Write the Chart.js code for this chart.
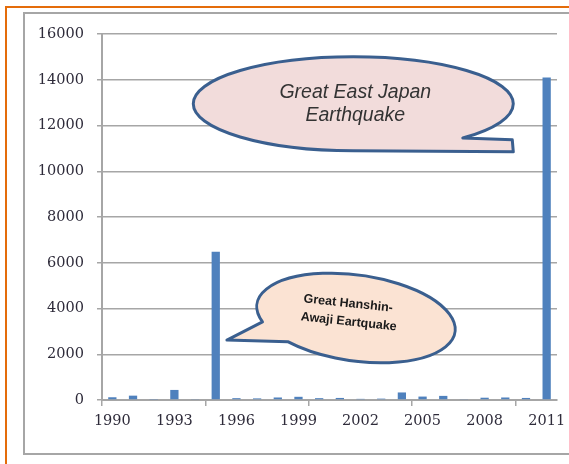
<!DOCTYPE html>
<html>
<head>
<meta charset="utf-8">
<script src="https://cdn.jsdelivr.net/npm/chart.js@4"></script>
<style>
    html, body { margin: 0; padding: 0; background: #fff; }
    #wrap { position: relative; width: 569px; height: 464px; overflow: hidden; }
    /* orange page frame and grey chart frame */
    #orangeFrame {
        position: absolute; left: 5px; top: 6px; width: 700px; height: 600px;
        border-top: 2px solid #e46c0a; border-left: 2px solid #e46c0a;
    }
    #greyFrame {
        position: absolute; left: 23px; top: 12px; width: 700px; height: 439px;
        border: 2px solid #a6a6a6; border-right: none;
    }
    #chart { position: absolute; left: 0; top: 0; }
</style>
</head>
<body>
<div id="wrap">
    <div id="orangeFrame"></div>
    <div id="greyFrame"></div>
    <canvas id="chart" width="569" height="464"></canvas>
</div>
<script>
// Years (categories)
const years = ['1990', '1991', '1992', '1993', '1994', '1995', '1996', '1997', '1998', '1999', '2000',
    '2001', '2002', '2003', '2004', '2005', '2006', '2007', '2008', '2009', '2010', '2011'];

// Dead and missing from natural disasters
const casualties = [120, 190, 20, 440, 40, 6480, 80, 70, 110, 140, 80,
    90, 50, 60, 330, 150, 180, 40, 100, 110, 90, 14100];

// Tick labels shown on the axes
const shownYears = ['1990', '1993', '1996', '1999', '2002', '2005', '2008', '2011'];
const yTicks = [0, 2000, 4000, 6000, 8000, 10000, 12000, 14000, 16000];

const barColor = '#4f81bd';
const gridColor = '#a6a6a6';
const labelColor = '#2e2b3a';
const outlineColor = '#3a5f8f';

// Speech bubbles drawn on top of the bars
const calloutPlugin = {
    id: 'callouts',
    afterDatasetsDraw(chart) {
        const ctx = chart.ctx;
        const x = chart.scales.x;
        const y = chart.scales.y;
        const deg = Math.PI / 180;

        // Great East Japan Earthquake
        const cx = x.getPixelForValue(11.65);
        const cy = y.getPixelForValue(12950);
        ctx.save();
        ctx.beginPath();
        ctx.ellipse(cx, cy, 160, 47, 0, 90 * deg, 406.8 * deg);
        ctx.lineTo(cx + 159, cy + 36);
        ctx.lineTo(cx + 160, cy + 48);
        ctx.closePath();
        ctx.fillStyle = '#f2dcdb';
        ctx.fill();
        ctx.lineWidth = 3;
        ctx.lineJoin = 'round';
        ctx.strokeStyle = outlineColor;
        ctx.stroke();
        ctx.fillStyle = '#333';
        ctx.font = 'italic 19.5px "Liberation Sans", Arial, sans-serif';
        ctx.textAlign = 'center';
        ctx.textBaseline = 'middle';
        ctx.fillText('Great East Japan', cx + 2, cy - 11);
        ctx.fillText('Earthquake', cx + 2, cy + 12);
        ctx.restore();

        // Great Hanshin-Awaji Earthquake
        const sx = x.getPixelForValue(11.78);
        const sy = y.getPixelForValue(3585);
        const tipX = x.getPixelForValue(5.54);
        const tipY = y.getPixelForValue(2620);
        ctx.save();
        ctx.beginPath();
        ctx.ellipse(sx, sy, 100, 43, 8 * deg, 157 * deg, 490 * deg);
        ctx.lineTo(tipX, tipY);
        ctx.closePath();
        ctx.fillStyle = '#fbe3d3';
        ctx.fill();
        ctx.lineWidth = 3;
        ctx.lineJoin = 'round';
        ctx.strokeStyle = outlineColor;
        ctx.stroke();
        ctx.translate(sx, sy);
        ctx.rotate(6 * deg);
        ctx.fillStyle = '#1a1a1a';
        ctx.font = 'bold 12.5px "Liberation Sans", Arial, sans-serif';
        ctx.textAlign = 'left';
        ctx.textBaseline = 'middle';
        ctx.fillText('Great Hanshin-', -54, -13.5);
        ctx.fillText('Awaji Eartquake', -55, 4.7);
        ctx.restore();
    }
};

function initChart() {
    const ctx = document.getElementById('chart');

    new Chart(ctx, {
        type: 'bar',
        data: {
            labels: years,
            datasets: [{
                data: casualties,
                backgroundColor: barColor,
                borderWidth: 0,
                categoryPercentage: 1,
                barPercentage: 0.4
            }]
        },
        options: {
            responsive: false,
            animation: false,
            layout: {
                padding: { left: 25, right: 12, top: 34, bottom: 34 }
            },
            plugins: {
                legend: { display: false },
                tooltip: { enabled: false }
            },
            scales: {
                x: {
                    offset: true,
                    grid: {
                        offset: true,
                        drawOnChartArea: false,
                        drawTicks: true,
                        tickLength: 6,
                        lineWidth: 1.5,
                        color: function(c) {
                            return (c.index !== undefined && c.index % 5 === 0) ? gridColor : 'transparent';
                        }
                    },
                    border: { display: true, color: gridColor, width: 2 },
                    ticks: {
                        autoSkip: false,
                        maxRotation: 0,
                        padding: 7,
                        color: labelColor,
                        font: { family: '"DejaVu Serif", serif', size: 14.5 },
                        callback: function(value, index) {
                            const yr = years[index];
                            return shownYears.includes(yr) ? yr : '';
                        }
                    },
                    afterFit: function(scale) {
                        scale.height = 30;
                        scale.paddingLeft = 0;
                        scale.paddingRight = 0;
                    }
                },
                y: {
                    min: 0,
                    max: 16000,
                    afterBuildTicks: function(scale) {
                        scale.ticks = yTicks.map(v => ({ value: v }));
                    },
                    grid: {
                        color: gridColor,
                        lineWidth: 1.5,
                        drawTicks: true,
                        tickLength: 5
                    },
                    border: { display: true, color: gridColor, width: 2 },
                    ticks: {
                        padding: 13,
                        color: labelColor,
                        font: { family: '"DejaVu Serif", serif', size: 14.5 },
                        callback: function(value) {
                            return String(value);
                        }
                    },
                    afterFit: function(scale) {
                        scale.width = 77;
                    }
                }
            }
        },
        plugins: [calloutPlugin]
    });
}

initChart();
</script>
</body>
</html>
